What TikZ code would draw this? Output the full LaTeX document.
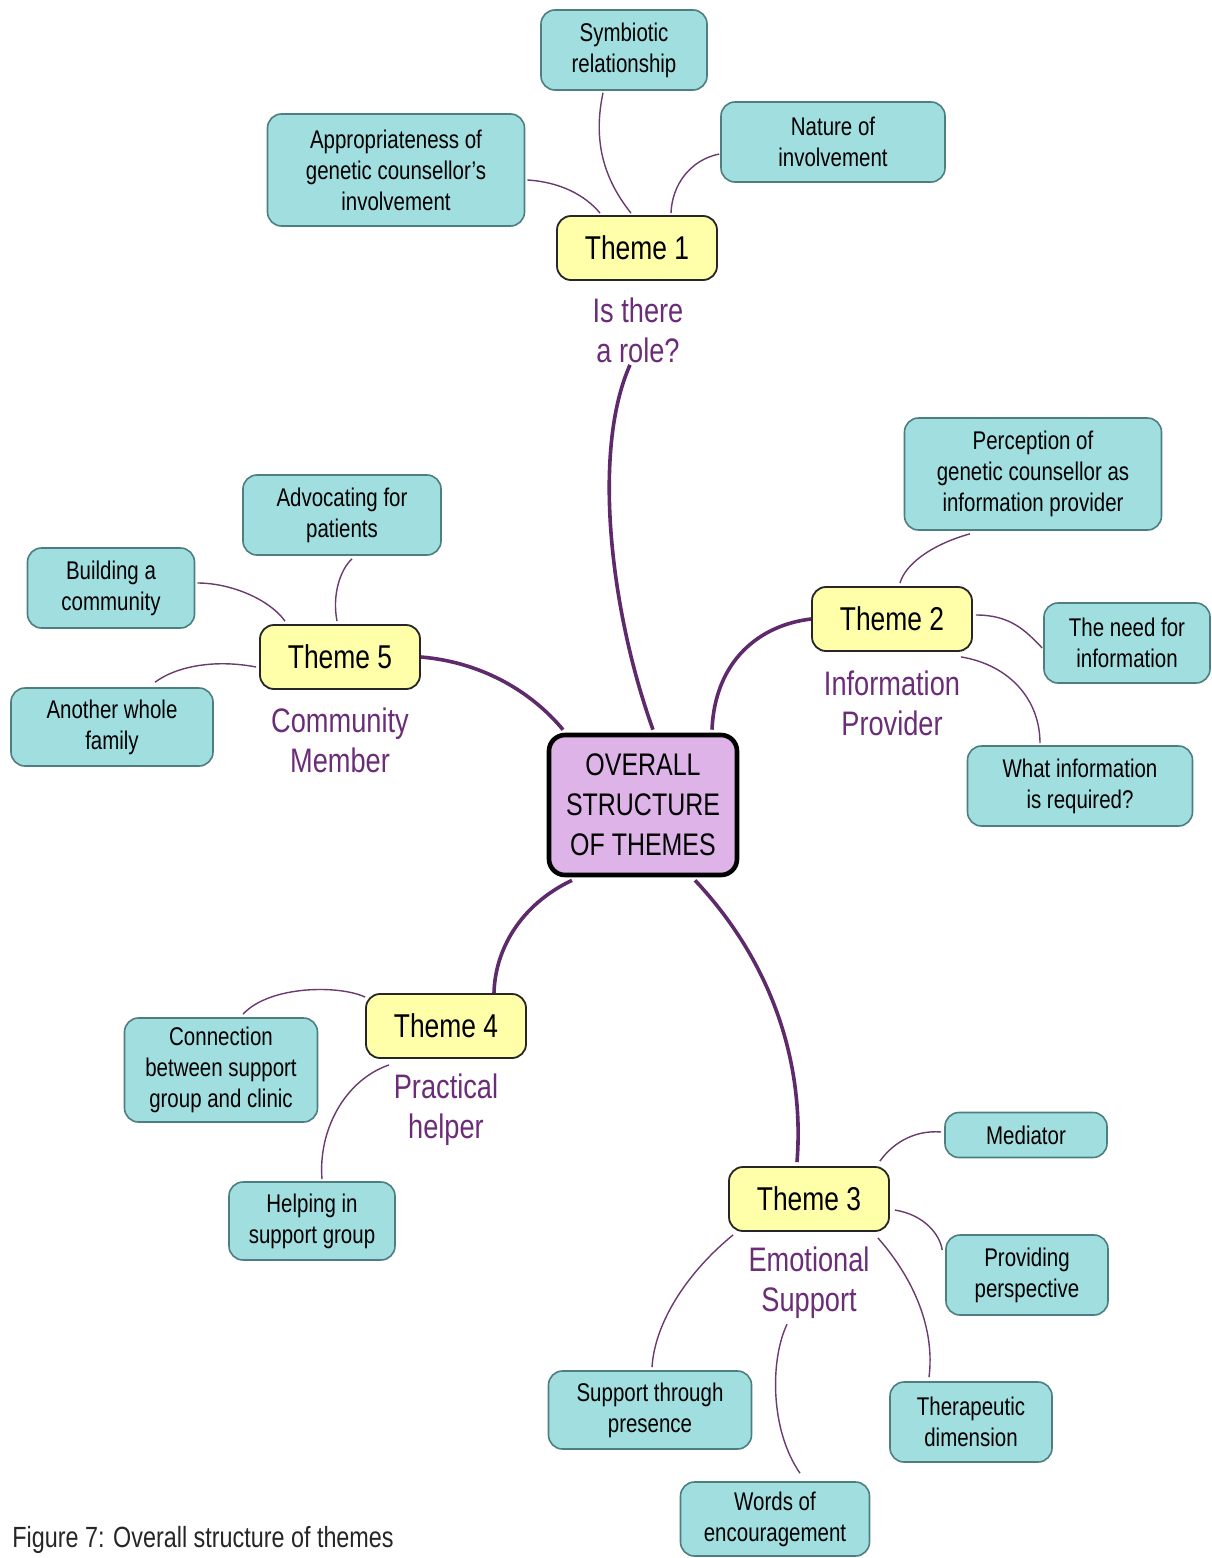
\documentclass[tikz,border=0pt]{standalone}
\usepackage{fontspec}
\setmainfont{Liberation Sans}[FakeStretch=0.8]
\usetikzlibrary{calc}
\definecolor{cyanfill}{HTML}{A0DEE0}
\definecolor{cyanline}{HTML}{4E7F80}
\definecolor{yelfill}{HTML}{FFFFAA}
\definecolor{ctrfill}{HTML}{DDB3E8}
\definecolor{mainline}{HTML}{5E2A6B}
\definecolor{thinline}{HTML}{6A3A70}
\definecolor{lbltext}{HTML}{6B2D78}
\tikzset{
  leaf/.style={draw=cyanline, fill=cyanfill, line width=0.8pt, rounded corners=7pt,
    align=center, inner sep=0pt, font=\fontsize{12.8pt}{15.5pt}\selectfont},
  theme/.style={draw=black!85, fill=yelfill, line width=0.9pt, rounded corners=7pt,
    align=center, inner sep=0pt, minimum width=80pt, minimum height=32pt,
    font=\fontsize{16.5pt}{19pt}\selectfont},
  ctr/.style={draw=black, fill=ctrfill, line width=2.3pt, rounded corners=8pt,
    align=center, inner sep=0pt, minimum width=94pt, minimum height=70pt,
    font=\fontsize{15.6pt}{20pt}\selectfont},
  lbl/.style={text=lbltext, align=center, inner sep=1pt, font=\fontsize{17pt}{20pt}\selectfont},
  mainc/.style={draw=mainline, line width=1.8pt},
  thinc/.style={draw=thinline, line width=0.7pt},
}
\begin{document}
\begin{tikzpicture}[x=0.5pt, y=-0.5pt]
\useasboundingbox (0,0) rectangle (1211,1558);
\fill[white] (0,0) rectangle (1211,1558);

% centre
\node[ctr] (ctr) at (643,805) {OVERALL\\STRUCTURE\\OF THEMES};

% theme nodes
\node[theme] (t1) at (637,248) {Theme 1};
\node[theme] (t2) at (892,619) {Theme 2};
\node[theme] (t3) at (809,1199) {Theme 3};
\node[theme] (t4) at (446,1026) {Theme 4};
\node[theme] (t5) at (340,657) {Theme 5};

% theme labels
\node[lbl] (l1) at (638,330) {Is there\\a role?};
\node[lbl] (l2) at (892,703) {Information\\Provider};
\node[lbl] (l3) at (809,1283) {Emotional\\Support};
\node[lbl] (l4) at (446,1110) {Practical\\helper};
\node[lbl] (l5) at (340,740) {Community\\Member};

% leaves theme 1
\node[leaf, minimum width=83pt, minimum height=40pt] (sym) at (624,50) {Symbiotic\\relationship};
\node[leaf, minimum width=128.5pt, minimum height=56pt] (app) at (396,170) {Appropriateness of\\genetic counsellor's\\involvement};
\node[leaf, minimum width=112pt, minimum height=40pt] (nat) at (833,142) {Nature of\\involvement};
% leaves theme 2
\node[leaf, minimum width=128.5pt, minimum height=56pt] (per) at (1033,474) {Perception of\\genetic counsellor as\\information provider};
\node[leaf, minimum width=83pt, minimum height=40pt] (need) at (1127,643) {The need for\\information};
\node[leaf, minimum width=112.5pt, minimum height=40pt] (what) at (1080,786) {What information\\is required?};
% leaves theme 5
\node[leaf, minimum width=99pt, minimum height=40pt] (adv) at (342,515) {Advocating for\\patients};
\node[leaf, minimum width=83.5pt, minimum height=40pt] (bld) at (111,588) {Building a\\community};
\node[leaf, minimum width=101pt, minimum height=39pt] (ano) at (112,727) {Another whole\\family};
% leaves theme 4
\node[leaf, minimum width=96.5pt, minimum height=52pt] (con) at (221,1070) {Connection\\between support\\group and clinic};
\node[leaf, minimum width=83pt, minimum height=39pt] (hlp) at (312,1221) {Helping in\\support group};
% leaves theme 3
\node[leaf, minimum width=81pt, minimum height=22.5pt] (med) at (1026,1135) {Mediator};
\node[leaf, minimum width=81pt, minimum height=40pt] (pro) at (1027,1275) {Providing\\perspective};
\node[leaf, minimum width=101.5pt, minimum height=39pt] (sup) at (650,1410) {Support through\\presence};
\node[leaf, minimum width=81pt, minimum height=40pt] (thr) at (971,1422) {Therapeutic\\dimension};
\node[leaf, minimum width=94.5pt, minimum height=37pt] (wrd) at (775,1519) {Words of\\encouragement};

% caption
\node[anchor=west, inner sep=0pt, font=\fontsize{14.6pt}{17pt}\selectfont, text=black!85] (cap) at (12,1540) {Figure 7: Overall structure of themes};

% main connectors
\draw[mainc] ($(ctr.north)+(10,-3)$) .. controls (610,610) and (592,450) .. ($(l1.south)+(-8,0)$);
\draw[mainc] ($(ctr.north)+(69,-3)$) .. controls (715,660) and (760,625) .. (t2.west);
\draw[mainc] ($(ctr.north)+(-80,-3)$) .. controls (530,690) and (480,662) .. (t5.east);
\draw[mainc] ($(ctr.south)+(-71,3)$) .. controls (520,905) and (495,950) .. ($(t4.north)+(48,0)$);
\draw[mainc] ($(ctr.south)+(52,3)$) .. controls (770,960) and (805,1060) .. ($(t3.north)+(-12,-4)$);

% thin connectors theme 1
\draw[thinc] ($(app.east)+(2,10)$) .. controls (560,182) and (585,195) .. ($(t1.north)+(-37,-2)$);
\draw[thinc] ($(sym.south)+(-21,2)$) .. controls (593,140) and (603,178) .. ($(t1.north)+(-6,-2)$);
\draw[thinc] ($(nat.west)+(-1,12)$) .. controls (690,160) and (672,185) .. ($(t1.north)+(34,-2)$);
% theme 2
\draw[thinc] ($(per.south)+(-63,3)$) .. controls (930,545) and (905,565) .. ($(t2.north)+(8,-3)$);
\draw[thinc] ($(t2.east)+(3,-4)$) .. controls (1010,615) and (1025,630) .. ($(need.west)+(-1,5)$);
\draw[thinc] ($(t2.south east)+(-12,5)$) .. controls (1010,665) and (1040,700) .. ($(what.north)+(-40,-2)$);
% theme 5
\draw[thinc] ($(t5.north)+(-55,-3)$) .. controls (270,600) and (232,583) .. ($(bld.east)+(2,-5)$);
\draw[thinc] ($(t5.north)+(-3,-3)$) .. controls (332,595) and (340,570) .. ($(adv.south)+(10,3)$);
\draw[thinc] ($(t5.west)+(-3,10)$) .. controls (220,660) and (180,664) .. ($(ano.north)+(43,-5)$);
% theme 4
\draw[thinc] ($(t4.north west)+(0,4)$) .. controls (340,985) and (270,985) .. ($(con.north)+(22,-3)$);
\draw[thinc] ($(t4.south west)+(24,6)$) .. controls (345,1080) and (318,1130) .. ($(hlp.north)+(10,-2)$);
% theme 3
\draw[thinc] ($(t3.north east)+(-10,-5)$) .. controls (895,1140) and (918,1130) .. ($(med.west)+(-3,-3)$);
\draw[thinc] ($(t3.east)+(5,11)$) .. controls (925,1215) and (940,1235) .. ($(pro.west)+(-3,-25)$);
\draw[thinc] ($(t3.south west)+(5,3)$) .. controls (690,1270) and (655,1320) .. ($(sup.north)+(2,-3)$);
\draw[thinc] ($(t3.south east)+(-12,6)$) .. controls (915,1280) and (935,1330) .. ($(thr.north)+(-42,-4)$);
\draw[thinc] ($(wrd.north)+(25,-8)$) .. controls (770,1430) and (770,1360) .. ($(l3.south)+(-22,3)$);
\end{tikzpicture}
\end{document}
